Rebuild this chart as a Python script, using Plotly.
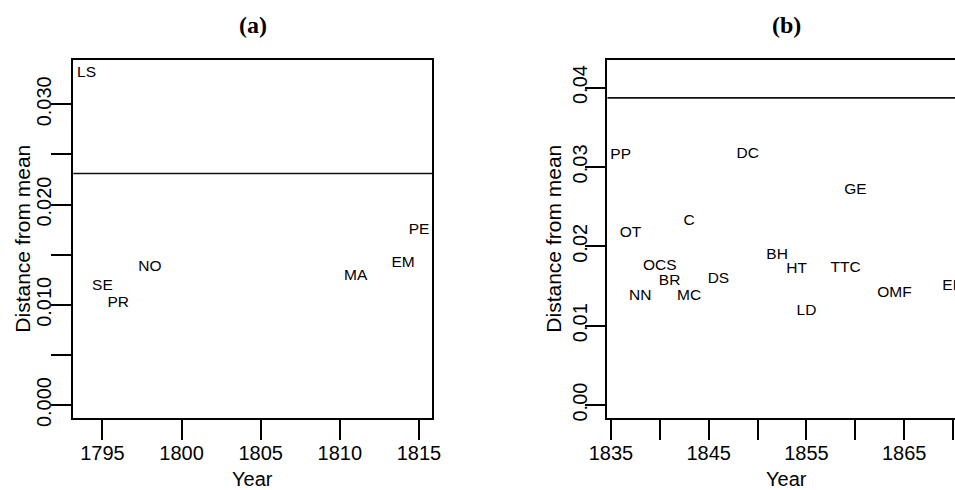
import plotly.graph_objects as go

# (a) Austen: work abbreviations, year written, distance from mean
titles_a = ["LS", "SE", "PR", "NO", "MA", "EM", "PE"]
years_a = [1794, 1795, 1796, 1798, 1811, 1814, 1815]
dist_a = [0.0331, 0.0119, 0.0102, 0.0138, 0.0129, 0.0142, 0.0175]
cutoff_a = 0.0231

# (b) Dickens
titles_b = ["PP", "OT", "NN", "OCS", "BR", "C", "MC", "DS", "DC", "BH",
            "HT", "LD", "TTC", "GE", "OMF", "ED"]
years_b = [1836, 1837, 1838, 1840, 1841, 1843, 1843, 1846, 1849, 1852,
           1854, 1855, 1859, 1860, 1864, 1870]
dist_b = [0.0315, 0.0216, 0.0137, 0.0175, 0.0156, 0.0232, 0.0137, 0.0159,
          0.0316, 0.0189, 0.0171, 0.0118, 0.0172, 0.0271, 0.0141, 0.0150]
cutoff_b = 0.0387

# axis limits (before the usual 4% padding)
xlim_a = (1794, 1815)
ylim_a = (0, 0.0331)
xlim_b = (1836, 1870)
ylim_b = (0, 0.0418)

xticks_a = [1795, 1800, 1805, 1810, 1815]
xticklab_a = ["1795", "1800", "1805", "1810", "1815"]
yticks_a = [0, 0.005, 0.010, 0.015, 0.020, 0.025, 0.030]
yticklab_a = ["0.000", "", "0.010", "", "0.020", "", "0.030"]
xticks_b = [1835, 1840, 1845, 1850, 1855, 1860, 1865, 1870]
xticklab_b = ["1835", "", "1845", "", "1855", "", "1865", ""]
yticks_b = [0, 0.01, 0.02, 0.03, 0.04]
yticklab_b = ["0.00", "0.01", "0.02", "0.03", "0.04"]


def padded(lim, frac=0.04):
    lo, hi = lim
    d = hi - lo
    return [lo - frac * d, hi + frac * d]


W, H = 955, 490
SANS = "Liberation Sans, Arial, Helvetica, sans-serif"
SERIF = "Liberation Serif, Times New Roman, serif"

# pixel geometry of the two plot regions
A_LEFT, PLOT_W = 73.3, 359.0
B_LEFT = 607.4
TOP, BOTTOM = 60.0, 418.3

xr_a = padded(xlim_a)
yr_a = padded(ylim_a)
yr_b = padded(ylim_b)
xr_b_full = padded(xlim_b)
# the right panel runs past the page edge; show only what fits
vis = (W - B_LEFT) / PLOT_W
xr_b = [xr_b_full[0], xr_b_full[0] + vis * (xr_b_full[1] - xr_b_full[0])]

fig = go.Figure()

fig.add_trace(go.Scatter(
    x=years_a, y=dist_a, text=titles_a, mode="text",
    textposition="middle center", cliponaxis=True,
    textfont=dict(family=SANS, size=15.5, color="black"),
    xaxis="x", yaxis="y", showlegend=False, hoverinfo="skip"))

fig.add_trace(go.Scatter(
    x=years_b, y=dist_b, text=titles_b, mode="text",
    textposition="middle center", cliponaxis=True,
    textfont=dict(family=SANS, size=15.5, color="black"),
    xaxis="x2", yaxis="y2", showlegend=False, hoverinfo="skip"))

# threshold lines
fig.add_shape(type="line", xref="x domain", yref="y", x0=0, x1=1,
              y0=cutoff_a, y1=cutoff_a, line=dict(color="#111", width=1.6))
fig.add_shape(type="line", xref="x2 domain", yref="y2", x0=0, x1=1,
              y0=cutoff_b, y1=cutoff_b, line=dict(color="#111", width=1.6))

common = dict(showgrid=False, zeroline=False, showline=True, linecolor="black",
              linewidth=2, ticks="outside", ticklen=20, tickwidth=2,
              automargin=False,
              tickcolor="black", tickfont=dict(family=SANS, size=20, color="black"))

ydom = [1 - BOTTOM / H, 1 - TOP / H]

fig.update_layout(
    width=W, height=H, autosize=False,
    margin=dict(l=0, r=0, t=0, b=0),
    paper_bgcolor="white", plot_bgcolor="white",
    xaxis=dict(domain=[A_LEFT / W, (A_LEFT + PLOT_W) / W], range=xr_a,
               tickvals=xticks_a, ticktext=xticklab_a, mirror=True,
               anchor="y", ticklabelstandoff=-4, **common),
    yaxis=dict(domain=ydom, range=yr_a, tickvals=yticks_a, ticktext=yticklab_a,
               tickangle=-90, mirror=True, anchor="x", ticklabelstandoff=-8,
               **common),
    xaxis2=dict(domain=[B_LEFT / W, 1.0], range=xr_b,
                tickvals=xticks_b, ticktext=xticklab_b, mirror=True,
                anchor="y2", ticklabelstandoff=-4, **common),
    yaxis2=dict(domain=ydom, range=yr_b, tickvals=yticks_b, ticktext=yticklab_b,
                tickangle=-90, mirror=False, anchor="x2", ticklabelstandoff=-10,
                **common),
)

ymid = 1 - (TOP + BOTTOM) / 2 / H
b_center = (B_LEFT + PLOT_W / 2) / W
a_center = (A_LEFT + PLOT_W / 2) / W

ann = [
    dict(text="<b>(a)</b>", x=a_center, y=1 - 25 / H,
         font=dict(family=SERIF, size=24, color="black")),
    dict(text="<b>(b)</b>", x=b_center, y=1 - 25 / H,
         font=dict(family=SERIF, size=24, color="black")),
    dict(text="Year", x=a_center, y=1 - 479 / H,
         font=dict(family=SANS, size=20, color="black")),
    dict(text="Year", x=b_center, y=1 - 479 / H,
         font=dict(family=SANS, size=20, color="black")),
    dict(text="Distance from mean", x=22.5 / W, y=ymid, textangle=-90,
         font=dict(family=SANS, size=21, color="black")),
    dict(text="Distance from mean", x=553.5 / W, y=ymid, textangle=-90,
         font=dict(family=SANS, size=21, color="black")),
]
for a in ann:
    a.update(xref="paper", yref="paper", showarrow=False,
             xanchor="center", yanchor="middle")
    fig.add_annotation(**a)

fig.write_html("out.html")
